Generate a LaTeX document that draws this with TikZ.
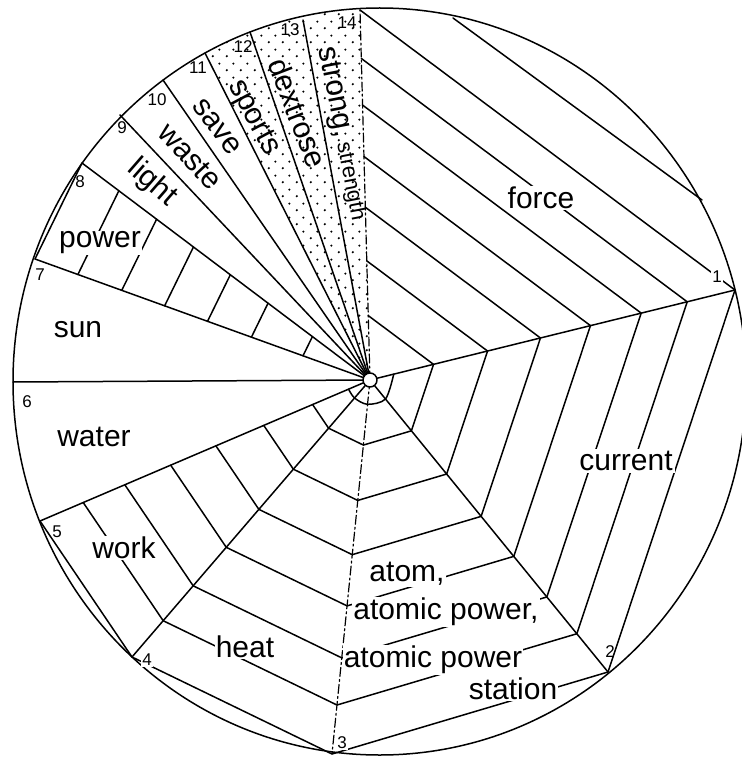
\documentclass[tikz,border=0pt]{standalone}
\usepackage{fontspec}
\setmainfont{Liberation Sans}
\usetikzlibrary{calc,patterns}
\pgfdeclarepatternformonly{sparsedots}{\pgfqpoint{0pt}{0pt}}{\pgfqpoint{14pt}{14pt}}{\pgfqpoint{14pt}{14pt}}{%
  \pgfpathcircle{\pgfqpoint{3pt}{3pt}}{1.3pt}%
  \pgfpathcircle{\pgfqpoint{10pt}{10pt}}{1.3pt}%
  \pgfusepath{fill}}
\newcommand{\lblfont}{\fontsize{30}{32}\selectfont}
\newcommand{\smallfont}{\fontsize{22}{24}\selectfont}
\newcommand{\numfont}{\fontsize{17}{18}\selectfont}
\tikzset{
  ln/.style={line width=1.5pt},
  spokedash/.style={line width=1.2pt, dash pattern=on 9pt off 3pt on 2pt off 3pt},
  word/.style={font=\lblfont, inner sep=1pt},
  wordw/.style={word, fill=white},
  num/.style={font=\numfont, inner sep=1pt},
  numw/.style={num, fill=white},
}
\begin{document}
\begin{tikzpicture}[x=1pt,y=-1pt,line join=round,line cap=round]
\useasboundingbox (0,0) rectangle (741,759);
\fill[white] (0,0) rectangle (741,759);
\coordinate (C) at (379.6,381.5);
\coordinate (H) at (370,380);
\coordinate (P1) at (735,290);
\coordinate (P2) at (608,672);
\coordinate (P3) at (332,754);
\coordinate (P4) at (132,657);
\coordinate (P5) at (40,521);
\coordinate (P6) at (13,382);
\coordinate (P7) at (35,259);
\coordinate (P8) at (82,163);
\coordinate (P9) at (120,115);
\coordinate (P10) at (163,80);
\coordinate (P11) at (205,53);
\coordinate (P12) at (250,32);
\coordinate (P13) at (303,20);
\coordinate (P14) at (360,10);
\coordinate (F1) at (453,18);
\coordinate (F2) at (702,200);

% dotted sectors
\begin{scope}
\clip (C) ellipse [x radius=366.6pt, y radius=373.5pt];
\fill[pattern=sparsedots] (H) -- ($(H)!1.3!(P11)$) -- ($(H)!1.3!(P14)$) -- cycle;
\end{scope}

% outline
\draw[ln] (C) ellipse [x radius=366.6pt, y radius=373.5pt];

% spokes
\foreach \p in {P1,P2,P4,P5,P6,P7,P8,P9,P10,P11,P12,P13} \draw[ln] (H) -- (\p);
\draw[spokedash] (H) -- (P14);
\draw[spokedash] (H) -- (P3);

% web rings
\foreach \t in {0.174,0.322,0.467,0.604,0.743,0.869}
  \draw[ln] ($(H)!\t!(P14)$) -- ($(H)!\t!(P1)$) -- ($(H)!\t!(P2)$) -- ($(H)!\t!(P3)$) -- ($(H)!\t!(P4)$) -- ($(H)!\t!(P5)$);
\draw[ln] (P14) -- (P1) -- (P2) -- (P3) -- (P4) -- (P5);
\draw[ln] (F1) -- (F2);
\foreach \i in {1,...,5} \coordinate (r\i) at ($(H)!0.065!(P\i)$);
\draw[ln] plot[smooth] coordinates {(r1) (r2) (r3) (r4) (r5)};

% power rungs
\foreach \t in {0.2,0.354,0.485,0.613,0.741,0.872} \draw[ln] ($(H)!\t!(P7)$) -- ($(H)!\t!(P8)$);
\draw[ln] (P7) -- (P8);

% hub
\draw[ln, fill=white] (H) circle [radius=7pt];

% labels
\node[wordw] (force) at (541,198) {force};
\node[wordw, inner sep=2pt] (current) at (626,461) {current};
\node[wordw] (atom) at (407,574) {atom,};
\node[wordw] (ap1) at (446,612) {atomic power,};
\node[wordw] (ap2) at (433,660) {atomic power};
\node[wordw] (station) at (513,689) {station};
\node[wordw] (heat) at (245,647) {heat};
\node[wordw] (work) at (124,548) {work};
\node[word] (water) at (94,437) {water};
\node[word] (sun) at (78,330) {sun};
\node[wordw] (power) at (100,243) {power};
\node[word, rotate=-41] (light) at (152,183) {light};
\node[word, rotate=-47] (waste) at (190,157) {waste};
\node[word, rotate=-53] (save) at (217,127) {save};
\node[word, rotate=-62] (sports) at (253,118) {sports};
\node[word, rotate=-69] (dextrose) at (298,113) {dextrose};
\node[word, rotate=-79] (strong) at (342,134) {strong,\,{\smallfont strength}};

% numbers
\node[numw] (n1) at (717,277) {1};
\node[num] (n2) at (610,652) {2};
\node[numw] (n3) at (342,743) {3};
\node[numw] (n4) at (147,660) {4};
\node[num] (n5) at (57,532) {5};
\node[num] (n6) at (27,402) {6};
\node[num] (n7) at (40,275) {7};
\node[num] (n8) at (80,182) {8};
\node[num] (n9) at (122,128) {9};
\node[num] (n10) at (157,100) {10};
\node[num] (n11) at (198,68) {11};
\node[num] (n12) at (243,47) {12};
\node[num] (n13) at (290,30) {13};
\node[num] (n14) at (347,23) {14};
\end{tikzpicture}
\end{document}
